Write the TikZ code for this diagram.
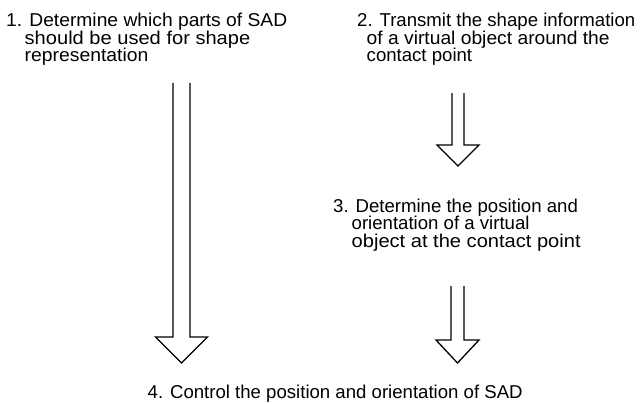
\documentclass[tikz,border=0pt]{standalone}
\usepackage{fontspec}
\usepackage{graphicx}
\setmainfont{Liberation Sans}
\usetikzlibrary{calc}
\tikzset{
  steptext/.style={anchor=base west, inner sep=0pt, font=\fontsize{18.6}{17.7}\selectfont},
  blockarrow/.style={draw=black, line width=1.3pt, line join=miter},
}
\newcommand\widen[2]{\scalebox{#1}[1]{#2}}
\newcommand\hollowarrow[5]{%
  \draw[blockarrow] ($(#1)+(-#3,0)$) -- ($(#2)+(-#3,-#5)$) -- ($(#2)+(-#4,-#5)$) -- (#2)
    -- ($(#2)+(#4,-#5)$) -- ($(#2)+(#3,-#5)$) -- ($(#1)+(#3,0)$);}
\begin{document}
\begin{tikzpicture}[x=1pt,y=-1pt]
\useasboundingbox[fill=white] (0,0) rectangle (640,404);
% step 1
\node[steptext] (s1a) at (6,27)      {\widen{1.035}{1. Determine which parts of SAD}};
\node[steptext] (s1b) at (24.5,44.5) {\widen{1.08}{should be used for shape}};
\node[steptext] (s1c) at (24.5,62)   {\widen{1.04}{representation}};
% step 2
\node[steptext] (s2a) at (357,27)     {2. Transmit the shape information};
\node[steptext] (s2b) at (366.5,44.5) {\widen{1.035}{of a virtual object around the}};
\node[steptext] (s2c) at (366.5,62)   {contact point};
% step 3
\node[steptext] (s3a) at (333,212)     {3. Determine the position and};
\node[steptext] (s3b) at (351.5,229.5) {orientation of a virtual};
\node[steptext] (s3c) at (351.5,247)   {\widen{1.08}{object at the contact point}};
% step 4
\node[steptext] (s4) at (147.5,398) {4. Control the position and orientation of SAD};
% arrows
\coordinate (a1s) at (181.5,83);
\coordinate (a1e) at (181.5,363);
\coordinate (a2s) at (458,93);
\coordinate (a2e) at (458,166);
\coordinate (a3s) at (457.5,286);
\coordinate (a3e) at (457.5,363);
\hollowarrow{a1s}{a1e}{8.5}{26}{26}
\hollowarrow{a2s}{a2e}{6}{21}{21}
\hollowarrow{a3s}{a3e}{6.5}{21.5}{23}
\end{tikzpicture}
\end{document}
